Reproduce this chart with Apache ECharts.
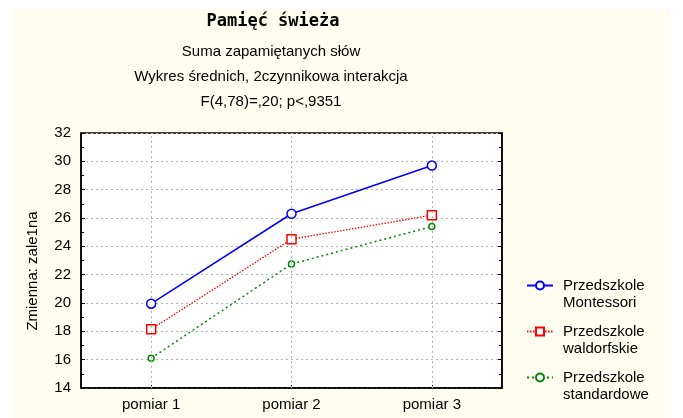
<!DOCTYPE html>
<html><head><meta charset="utf-8">
<script src="https://cdn.jsdelivr.net/npm/echarts@6/dist/echarts.min.js"></script>
<style>html,body{margin:0;padding:0;background:#fff}#c{width:683px;height:418px}</style>
</head><body><div id="c"></div>
<script>
const categories = ['pomiar 1', 'pomiar 2', 'pomiar 3'];
const montessori = [19.95, 26.3, 29.7];
const waldorf = [18.15, 24.5, 26.2];
const standard = [16.1, 22.75, 25.4];
const seriesNames = ['Przedszkole Montessori', 'Przedszkole waldorfskie', 'Przedszkole standardowe'];
const legendFirst = 'Przedszkole';
const legendSecond = ['Montessori', 'waldorfskie', 'standardowe'];
const yTicks = {min: 14, max: 32, interval: 2};

const font = 'Liberation Sans, Arial, sans-serif';
const chart = echarts.init(document.getElementById('c'));
const yCommon = {
  type: 'value', min: yTicks.min, max: yTicks.max, interval: yTicks.interval,
  axisLine: {show: true, lineStyle: {color: '#000', width: 1.5}},
  axisTick: {show: true, inside: true, length: 4, lineStyle: {color: '#000'}},
  minorTick: {show: true, splitNumber: 2, length: 3, lineStyle: {color: '#000'}},
};
const txt = (s, x, y, extra) => Object.assign({type: 'text', x: x, y: y, style: {text: s, font: '15px ' + font, fill: '#000', textAlign: 'center', textVerticalAlign: 'middle'}}, extra || {});
chart.setOption({
  animation: false,
  backgroundColor: '#ffffff',
  graphic: [
    {type: 'rect', z: -10, shape: {x: 12, y: 9, width: 658, height: 409}, style: {fill: '#fffdf0'}},
    {type: 'text', x: 273, y: 22, style: {text: 'Pamięć świeża', font: 'bold 17px "DejaVu Sans Mono", monospace', fill: '#000', textAlign: 'center', textVerticalAlign: 'middle'}},
    txt('Suma zapamiętanych słów', 271, 52),
    txt('Wykres średnich, 2czynnikowa interakcja', 271, 77),
    txt('F(4,78)=,20; p<,9351', 271, 102),
    txt('Zmienna: zale1na', 33, 271, {rotation: Math.PI / 2}),
  ].concat(legendSecond.map((s, i) => ({type: 'text', x: 563, y: 303 + i * 46, style: {text: s, font: '15px ' + font, fill: '#000', textAlign: 'left', textVerticalAlign: 'middle'}}))),
  grid: {left: 81, right: 181, top: 133, bottom: 30, show: true, backgroundColor: '#fff', borderColor: '#000', borderWidth: 1.5},
  legend: {
    orient: 'vertical', left: 526, top: 277, itemWidth: 26, itemHeight: 10, itemGap: 29, padding: 0,
    data: seriesNames,
    formatter: () => legendFirst,
    textStyle: {fontFamily: font, fontSize: 15, color: '#000', lineHeight: 17, padding: [0, 0, 0, 5]}
  },
  xAxis: {
    type: 'category', data: categories, boundaryGap: true,
    axisLine: {show: true, lineStyle: {color: '#000', width: 1.5}},
    axisTick: {show: true, inside: true, alignWithLabel: true, length: 3, lineStyle: {color: '#000'}},
    axisLabel: {fontFamily: font, fontSize: 15, color: '#000', margin: 9},
    splitLine: {show: false}
  },
  yAxis: [
    Object.assign({}, yCommon, {position: 'left',
      axisLabel: {fontFamily: font, fontSize: 15, color: '#000', margin: 10},
      splitLine: {show: true, lineStyle: {color: '#b4b4b4', type: [2, 3], width: 1}}}),
    Object.assign({}, yCommon, {position: 'right', axisLabel: {show: false}, splitLine: {show: false}})
  ],
  series: [
    {name: seriesNames[0], type: 'line', data: montessori, symbol: 'circle', symbolSize: 9,
      lineStyle: {color: '#0000ff', width: 1.5, type: 'solid'},
      itemStyle: {color: '#ffffff', borderColor: '#0000ff', borderWidth: 1.5},
      markLine: {silent: true, symbol: 'none', label: {show: false},
        lineStyle: {color: '#b4b4b4', type: [2, 3], width: 1},
        data: categories.map(c => ({xAxis: c}))}, z: 5},
    {name: seriesNames[1], type: 'line', data: waldorf, symbol: 'rect', symbolSize: 9,
      lineStyle: {color: '#ff0000', width: 1.3, type: [1.5, 1.5]},
      itemStyle: {color: '#ffffff', borderColor: '#ff0000', borderWidth: 1.5}, z: 4},
    {name: seriesNames[2], type: 'line', data: standard, symbol: 'circle', symbolSize: 6,
      lineStyle: {color: '#008a00', width: 1.5, type: [2, 3]},
      itemStyle: {color: '#ffffff', borderColor: '#008a00', borderWidth: 1.5}, z: 3}
  ]
});
</script></body></html>
